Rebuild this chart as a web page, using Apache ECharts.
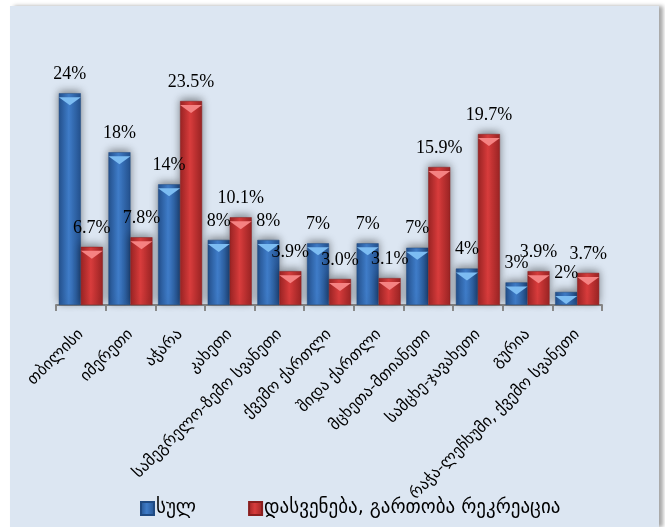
<!DOCTYPE html>
<html>
<head>
<meta charset="utf-8">
<script src="https://cdn.jsdelivr.net/npm/echarts@6/dist/echarts.min.js"></script>
<style>
  html, body { margin: 0; padding: 0; background: #fff; }
  #chart {
    position: absolute;
    left: 10px;
    top: 6px;
    width: 649px;
    height: 521px;
    background: #dce6f2;
    box-shadow: 4px 0 4px rgba(0, 0, 0, 0.35);
  }
</style>
</head>
<body>
<div id="chart"></div>
<script>
// 地区
const regions = [
  'თბილისი',
  'იმერეთი',
  'აჭარა',
  'კახეთი',
  'სამეგრელო-ზემო სვანეთი',
  'ქვემო ქართლი',
  'შიდა ქართლი',
  'მცხეთა-მთიანეთი',
  'სამცხე-ჯავახეთი',
  'გურია',
  'რაჭა-ლეჩხუმი, ქვემო სვანეთი'
];

const seriesNames = ['სულ', 'დასვენება, გართობა რეკრეაცია'];

// სულ (labels are rounded to whole percent)
const totalValues = [24.4, 17.6, 13.9, 7.5, 7.5, 7.1, 7.1, 6.6, 4.2, 2.6, 1.5];
// დასვენება, გართობა რეკრეაცია
const leisureValues = [6.7, 7.8, 23.5, 10.1, 3.9, 3.0, 3.1, 15.9, 19.7, 3.9, 3.7];

const chart = echarts.init(document.getElementById('chart'), null, { renderer: 'canvas' });

function barGradient(edge, mid) {
  return new echarts.graphic.LinearGradient(0, 0, 1, 0, [
    { offset: 0, color: edge },
    { offset: 0.45, color: mid },
    { offset: 1, color: edge }
  ]);
}

const labelStyle = {
  show: true,
  position: 'top',
  distance: 10,
  fontFamily: 'Liberation Serif',
  fontSize: 18,
  color: '#000'
};

const barShadow = {
  shadowColor: 'rgba(0,0,0,0.45)',
  shadowBlur: 9,
  shadowOffsetY: -2
};

const option = {
  animation: false,
  grid: {
    left: 46,
    right: 57,
    top: 82,
    bottom: 222,
    containLabel: false
  },
  legend: {
    data: seriesNames,
    left: 125,
    top: 488,
    icon: 'rect',
    itemWidth: 13,
    itemHeight: 13,
    itemGap: 52,
    textStyle: {
      fontFamily: 'DejaVu Sans',
      fontSize: 19,
      color: '#000',
      padding: [0, 0, 0, -3]
    }
  },
  xAxis: {
    type: 'category',
    data: regions,
    axisLine: { lineStyle: { color: '#8a8a8a', width: 2 } },
    axisTick: { show: true, length: 6, lineStyle: { color: '#8a8a8a', width: 2 } },
    axisLabel: {
      interval: 0,
      rotate: 45,
      margin: 27,
      fontFamily: 'DejaVu Sans',
      fontSize: 16,
      color: '#000'
    }
  },
  yAxis: {
    type: 'value',
    min: 0,
    max: 25,
    show: false,
    splitLine: { show: false }
  },
  series: [
    {
      name: seriesNames[0],
      type: 'bar',
      data: totalValues,
      barWidth: 22,
      barGap: '0%',
      itemStyle: Object.assign({
        color: barGradient('#24528f', '#3f7cc8'),
        borderColor: '#1f4a82',
        borderWidth: 0.5
      }, barShadow),
      label: Object.assign({}, labelStyle, {
        formatter: p => Math.round(p.value) + '%'
      }),
      z: 2
    },
    {
      name: seriesNames[1],
      type: 'bar',
      data: leisureValues,
      barWidth: 22,
      barGap: '0%',
      itemStyle: Object.assign({
        color: barGradient('#9c2424', '#d83c3c'),
        borderColor: '#8a1f1f',
        borderWidth: 0.5
      }, barShadow),
      label: Object.assign({}, labelStyle, {
        formatter: p => p.value.toFixed(1) + '%'
      }),
      z: 2
    },
    // 柱顶高光三角
    {
      name: 'top-total',
      type: 'pictorialBar',
      data: totalValues,
      symbol: 'path://M0,0 L20,0 L10,6 Z',
      symbolSize: [22, 8],
      symbolPosition: 'end',
      symbolOffset: ['-50%', '50%'],
      itemStyle: { color: '#7cbcf2' },
      silent: true,
      z: 3
    },
    {
      name: 'top-leisure',
      type: 'pictorialBar',
      data: leisureValues,
      symbol: 'path://M0,0 L20,0 L10,6 Z',
      symbolSize: [22, 8],
      symbolPosition: 'end',
      symbolOffset: ['50%', '50%'],
      itemStyle: { color: '#f58282' },
      silent: true,
      z: 3
    }
  ]
};

// legend icons use the plain series colors
option.series[0].color = '#2f66ad';
option.series[1].color = '#c23232';

chart.setOption(option);

window.addEventListener('resize', () => chart.resize());
</script>
</body>
</html>
